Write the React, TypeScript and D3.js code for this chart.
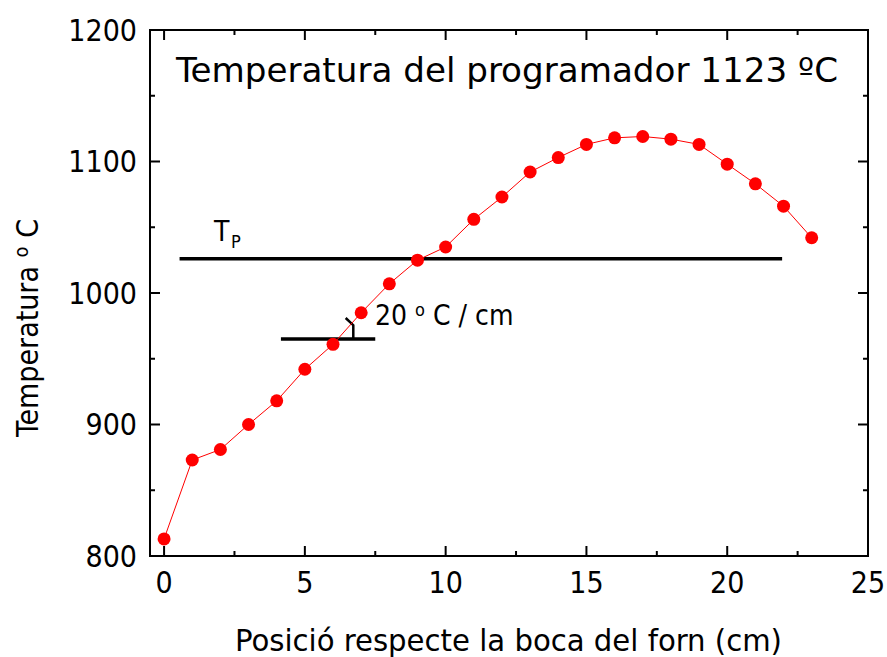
import React from "react";
import * as d3 from "d3";

const positions = [0, 1, 2, 3, 4, 5, 6, 7, 8, 9, 10, 11, 12, 13, 14, 15, 16, 17, 18, 19, 20, 21, 22, 23];
const temperatures = [813, 873, 881, 900, 918, 942, 961, 985, 1007, 1025, 1035, 1056, 1073, 1092, 1103, 1113, 1118, 1119, 1117, 1113, 1098, 1083, 1066, 1042];
const xTicks = [0, 5, 10, 15, 20, 25];
const xMinorTicks = [2.5, 7.5, 12.5, 17.5, 22.5];
const yTicks = [800, 900, 1000, 1100, 1200];
const yMinorTicks = [850, 950, 1050, 1150];
const tpLine = { x1: 0.55, x2: 21.95, y: 1026 };
const slopeLine = { x1: 4.15, x2: 7.5, y: 965 };
const slopeMark = [
  [6.45, 981],
  [6.72, 975.5],
  [6.72, 965],
];
const title = "Temperatura del programador 1123 ºC";
const xLabel = "Posició respecte la boca del forn (cm)";
const yLabelMain = "Temperatura ";
const yLabelDeg = "o";
const yLabelUnit = " C";
const slopeLabelA = "20 ";
const slopeLabelDeg = "o";
const slopeLabelB = " C / cm";

const W = 887;
const H = 657;
const L = 150, R = 868, T = 30, B = 556;
const FONT = "Tahoma, 'DejaVu Sans Condensed', 'DejaVu Sans', sans-serif";

export default function App() {
  const x = d3.scaleLinear().domain([-0.5, 25]).range([L, R]);
  const y = d3.scaleLinear().domain([800, 1200]).range([B, T]);
  const line = d3.line<number>().x((_, i) => x(positions[i])).y((d) => y(d));
  const major = 10, minor = 5;
  return (
    <svg width={W} height={H} style={{ position: "absolute", left: 0, top: 0, background: "#fff" }} fontFamily={FONT}>
      <rect x={0} y={0} width={W} height={H} fill="#fff" />
      {xTicks.map((t) => (
        <g key={"xt" + t}>
          <line x1={x(t)} x2={x(t)} y1={B} y2={B - major} stroke="#000" strokeWidth={2} />
          <line x1={x(t)} x2={x(t)} y1={T} y2={T + major} stroke="#000" strokeWidth={2} />
          <text x={x(t)} y={593} textAnchor="middle" fontSize={30}>{t}</text>
        </g>
      ))}
      {xMinorTicks.map((t) => (
        <g key={"xm" + t}>
          <line x1={x(t)} x2={x(t)} y1={B} y2={B - minor} stroke="#000" strokeWidth={2} />
          <line x1={x(t)} x2={x(t)} y1={T} y2={T + minor} stroke="#000" strokeWidth={2} />
        </g>
      ))}
      {yTicks.map((t) => (
        <g key={"yt" + t}>
          <line x1={L} x2={L + major} y1={y(t)} y2={y(t)} stroke="#000" strokeWidth={2} />
          <line x1={R} x2={R - major} y1={y(t)} y2={y(t)} stroke="#000" strokeWidth={2} />
          <text x={137} y={y(t)} dy="0.36em" textAnchor="end" fontSize={30}>{t}</text>
        </g>
      ))}
      {yMinorTicks.map((t) => (
        <g key={"ym" + t}>
          <line x1={L} x2={L + minor} y1={y(t)} y2={y(t)} stroke="#000" strokeWidth={2} />
          <line x1={R} x2={R - minor} y1={y(t)} y2={y(t)} stroke="#000" strokeWidth={2} />
        </g>
      ))}
      <rect x={L} y={T} width={R - L} height={B - T} fill="none" stroke="#000" strokeWidth={2} />
      <line x1={x(tpLine.x1)} x2={x(tpLine.x2)} y1={y(tpLine.y)} y2={y(tpLine.y)} stroke="#000" strokeWidth={3.5} />
      <line x1={x(slopeLine.x1)} x2={x(slopeLine.x2)} y1={y(slopeLine.y)} y2={y(slopeLine.y)} stroke="#000" strokeWidth={3.5} />
      <path d={d3.line()(slopeMark.map(([a, b]) => [x(a), y(b)]) as [number, number][]) || ""} fill="none" stroke="#000" strokeWidth={2.5} />
      <path d={line(temperatures) || ""} fill="none" stroke="#ff0000" strokeWidth={1} />
      {temperatures.map((v, i) => (
        <circle key={i} cx={x(positions[i])} cy={y(v)} r={6.5} fill="#ff0000" />
      ))}
      <text x={176} y={82} fontSize={34} textLength={662} lengthAdjust="spacingAndGlyphs">{title}</text>
      <text x={214} y={241} fontSize={28}>T</text>
      <text x={231} y={248} fontSize={18}>P</text>
      <text x={375} y={325} fontSize={28}>
        {slopeLabelA}
        <tspan fontSize={18} dy={-9}>{slopeLabelDeg}</tspan>
        <tspan dy={9}>{slopeLabelB}</tspan>
      </text>
      <text x={235} y={651} fontSize={30} textLength={547} lengthAdjust="spacingAndGlyphs">{xLabel}</text>
      <text transform="translate(38,437) rotate(-90)" x={0} y={0} fontSize={30}>
        {yLabelMain}
        <tspan fontSize={20} dy={-10}>{yLabelDeg}</tspan>
        <tspan dy={10}>{yLabelUnit}</tspan>
      </text>
    </svg>
  );
}
